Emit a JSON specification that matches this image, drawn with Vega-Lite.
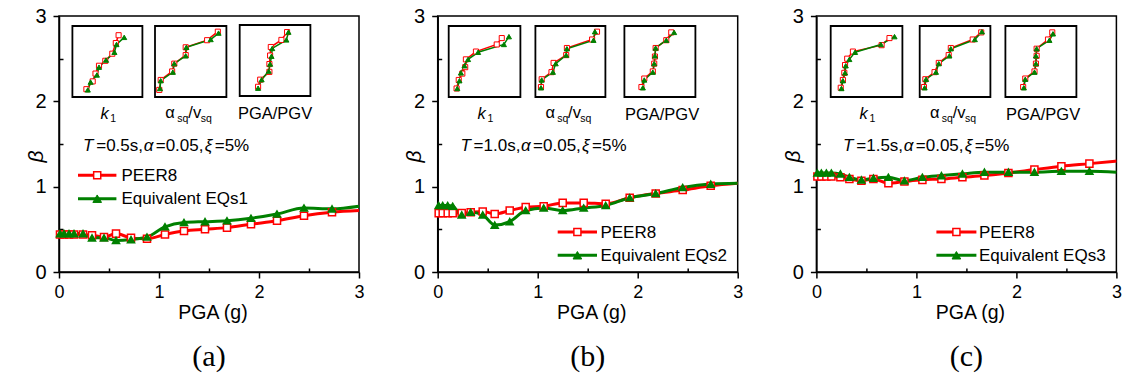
{
"$schema":"https://vega.github.io/schema/vega-lite/v6.json",
"background":"white",
"padding":{"left":24,"top":5,"right":0,"bottom":0},
"bounds":"flush",
"spacing":78.7,
"config":{"font":"Liberation Sans","view":{"stroke":"black","strokeWidth":1.5},
 "axis":{"domainColor":"black","domainWidth":1.5,"tickColor":"black","tickWidth":1.5,"labelColor":"black","titleColor":"black","grid":false,"titleFontWeight":"normal","labelFlush":false,"labelOverlap":false,"labelFont":"Liberation Sans","titleFont":"Liberation Sans"},
 "text":{"color":"black","font":"Liberation Sans"}},
"datasets":{
"main":[
{"p":"a","s":"PEER8","x":0.01,"y":0.44},{"p":"a","s":"PEER8","x":0.05,"y":0.44},{"p":"a","s":"PEER8","x":0.1,"y":0.44},{"p":"a","s":"PEER8","x":0.15,"y":0.44},{"p":"a","s":"PEER8","x":0.24,"y":0.44},{"p":"a","s":"PEER8","x":0.33,"y":0.43},{"p":"a","s":"PEER8","x":0.45,"y":0.41},{"p":"a","s":"PEER8","x":0.57,"y":0.45},{"p":"a","s":"PEER8","x":0.72,"y":0.40},{"p":"a","s":"PEER8","x":0.88,"y":0.39},{"p":"a","s":"PEER8","x":1.06,"y":0.44},{"p":"a","s":"PEER8","x":1.25,"y":0.48},{"p":"a","s":"PEER8","x":1.46,"y":0.50},{"p":"a","s":"PEER8","x":1.68,"y":0.52},{"p":"a","s":"PEER8","x":1.92,"y":0.56},{"p":"a","s":"PEER8","x":2.18,"y":0.60},{"p":"a","s":"PEER8","x":2.45,"y":0.66},{"p":"a","s":"PEER8","x":2.73,"y":0.70},{"p":"a","s":"PEER8","x":3.0,"y":0.72},
{"p":"a","s":"EQ","x":0.01,"y":0.45},{"p":"a","s":"EQ","x":0.05,"y":0.45},{"p":"a","s":"EQ","x":0.1,"y":0.45},{"p":"a","s":"EQ","x":0.15,"y":0.45},{"p":"a","s":"EQ","x":0.24,"y":0.45},{"p":"a","s":"EQ","x":0.33,"y":0.40},{"p":"a","s":"EQ","x":0.45,"y":0.40},{"p":"a","s":"EQ","x":0.57,"y":0.37},{"p":"a","s":"EQ","x":0.72,"y":0.38},{"p":"a","s":"EQ","x":0.88,"y":0.41},{"p":"a","s":"EQ","x":1.06,"y":0.53},{"p":"a","s":"EQ","x":1.25,"y":0.58},{"p":"a","s":"EQ","x":1.46,"y":0.59},{"p":"a","s":"EQ","x":1.68,"y":0.60},{"p":"a","s":"EQ","x":1.92,"y":0.63},{"p":"a","s":"EQ","x":2.18,"y":0.68},{"p":"a","s":"EQ","x":2.45,"y":0.75},{"p":"a","s":"EQ","x":2.73,"y":0.74},{"p":"a","s":"EQ","x":3.0,"y":0.77},
{"p":"b","s":"PEER8","x":0.01,"y":0.69},{"p":"b","s":"PEER8","x":0.05,"y":0.69},{"p":"b","s":"PEER8","x":0.1,"y":0.69},{"p":"b","s":"PEER8","x":0.15,"y":0.69},{"p":"b","s":"PEER8","x":0.24,"y":0.69},{"p":"b","s":"PEER8","x":0.33,"y":0.70},{"p":"b","s":"PEER8","x":0.45,"y":0.71},{"p":"b","s":"PEER8","x":0.57,"y":0.68},{"p":"b","s":"PEER8","x":0.72,"y":0.72},{"p":"b","s":"PEER8","x":0.88,"y":0.76},{"p":"b","s":"PEER8","x":1.06,"y":0.77},{"p":"b","s":"PEER8","x":1.25,"y":0.81},{"p":"b","s":"PEER8","x":1.46,"y":0.81},{"p":"b","s":"PEER8","x":1.68,"y":0.80},{"p":"b","s":"PEER8","x":1.92,"y":0.87},{"p":"b","s":"PEER8","x":2.18,"y":0.92},{"p":"b","s":"PEER8","x":2.45,"y":0.96},{"p":"b","s":"PEER8","x":2.73,"y":1.01},{"p":"b","s":"PEER8","x":3.0,"y":1.04},
{"p":"b","s":"EQ","x":0.01,"y":0.78},{"p":"b","s":"EQ","x":0.05,"y":0.78},{"p":"b","s":"EQ","x":0.1,"y":0.78},{"p":"b","s":"EQ","x":0.15,"y":0.77},{"p":"b","s":"EQ","x":0.24,"y":0.67},{"p":"b","s":"EQ","x":0.33,"y":0.70},{"p":"b","s":"EQ","x":0.45,"y":0.67},{"p":"b","s":"EQ","x":0.57,"y":0.55},{"p":"b","s":"EQ","x":0.72,"y":0.59},{"p":"b","s":"EQ","x":0.88,"y":0.72},{"p":"b","s":"EQ","x":1.06,"y":0.75},{"p":"b","s":"EQ","x":1.25,"y":0.72},{"p":"b","s":"EQ","x":1.46,"y":0.75},{"p":"b","s":"EQ","x":1.68,"y":0.78},{"p":"b","s":"EQ","x":1.92,"y":0.87},{"p":"b","s":"EQ","x":2.18,"y":0.92},{"p":"b","s":"EQ","x":2.45,"y":0.99},{"p":"b","s":"EQ","x":2.73,"y":1.03},{"p":"b","s":"EQ","x":3.0,"y":1.04},
{"p":"c","s":"PEER8","x":0.01,"y":1.12},{"p":"c","s":"PEER8","x":0.05,"y":1.12},{"p":"c","s":"PEER8","x":0.1,"y":1.12},{"p":"c","s":"PEER8","x":0.15,"y":1.12},{"p":"c","s":"PEER8","x":0.24,"y":1.11},{"p":"c","s":"PEER8","x":0.33,"y":1.09},{"p":"c","s":"PEER8","x":0.45,"y":1.07},{"p":"c","s":"PEER8","x":0.57,"y":1.09},{"p":"c","s":"PEER8","x":0.72,"y":1.04},{"p":"c","s":"PEER8","x":0.88,"y":1.06},{"p":"c","s":"PEER8","x":1.06,"y":1.08},{"p":"c","s":"PEER8","x":1.25,"y":1.09},{"p":"c","s":"PEER8","x":1.46,"y":1.11},{"p":"c","s":"PEER8","x":1.68,"y":1.13},{"p":"c","s":"PEER8","x":1.92,"y":1.16},{"p":"c","s":"PEER8","x":2.18,"y":1.20},{"p":"c","s":"PEER8","x":2.45,"y":1.24},{"p":"c","s":"PEER8","x":2.73,"y":1.27},{"p":"c","s":"PEER8","x":3.0,"y":1.30},
{"p":"c","s":"EQ","x":0.01,"y":1.16},{"p":"c","s":"EQ","x":0.05,"y":1.16},{"p":"c","s":"EQ","x":0.1,"y":1.16},{"p":"c","s":"EQ","x":0.15,"y":1.16},{"p":"c","s":"EQ","x":0.24,"y":1.15},{"p":"c","s":"EQ","x":0.33,"y":1.11},{"p":"c","s":"EQ","x":0.45,"y":1.08},{"p":"c","s":"EQ","x":0.57,"y":1.10},{"p":"c","s":"EQ","x":0.72,"y":1.11},{"p":"c","s":"EQ","x":0.88,"y":1.07},{"p":"c","s":"EQ","x":1.06,"y":1.11},{"p":"c","s":"EQ","x":1.25,"y":1.13},{"p":"c","s":"EQ","x":1.46,"y":1.15},{"p":"c","s":"EQ","x":1.68,"y":1.17},{"p":"c","s":"EQ","x":1.92,"y":1.17},{"p":"c","s":"EQ","x":2.18,"y":1.17},{"p":"c","s":"EQ","x":2.45,"y":1.18},{"p":"c","s":"EQ","x":2.73,"y":1.18},{"p":"c","s":"EQ","x":3.0,"y":1.17}
],
"ins":[
{"p":"a","i":1,"s":"PEER8","u":0.20,"v":0.11},{"p":"a","i":1,"s":"PEER8","u":0.29,"v":0.22},{"p":"a","i":1,"s":"PEER8","u":0.33,"v":0.33},{"p":"a","i":1,"s":"PEER8","u":0.38,"v":0.44},{"p":"a","i":1,"s":"PEER8","u":0.47,"v":0.51},{"p":"a","i":1,"s":"PEER8","u":0.57,"v":0.61},{"p":"a","i":1,"s":"PEER8","u":0.62,"v":0.76},{"p":"a","i":1,"s":"PEER8","u":0.66,"v":0.87},
{"p":"a","i":1,"s":"EQ","u":0.22,"v":0.10},{"p":"a","i":1,"s":"EQ","u":0.26,"v":0.21},{"p":"a","i":1,"s":"EQ","u":0.35,"v":0.31},{"p":"a","i":1,"s":"EQ","u":0.38,"v":0.42},{"p":"a","i":1,"s":"EQ","u":0.48,"v":0.52},{"p":"a","i":1,"s":"EQ","u":0.60,"v":0.63},{"p":"a","i":1,"s":"EQ","u":0.63,"v":0.74},{"p":"a","i":1,"s":"EQ","u":0.74,"v":0.84},
{"p":"a","i":2,"s":"PEER8","u":0.06,"v":0.10},{"p":"a","i":2,"s":"PEER8","u":0.08,"v":0.24},{"p":"a","i":2,"s":"PEER8","u":0.24,"v":0.36},{"p":"a","i":2,"s":"PEER8","u":0.27,"v":0.47},{"p":"a","i":2,"s":"PEER8","u":0.43,"v":0.59},{"p":"a","i":2,"s":"PEER8","u":0.43,"v":0.70},{"p":"a","i":2,"s":"PEER8","u":0.73,"v":0.80},{"p":"a","i":2,"s":"PEER8","u":0.88,"v":0.92},
{"p":"a","i":2,"s":"EQ","u":0.07,"v":0.12},{"p":"a","i":2,"s":"EQ","u":0.08,"v":0.23},{"p":"a","i":2,"s":"EQ","u":0.25,"v":0.35},{"p":"a","i":2,"s":"EQ","u":0.27,"v":0.47},{"p":"a","i":2,"s":"EQ","u":0.43,"v":0.58},{"p":"a","i":2,"s":"EQ","u":0.44,"v":0.70},{"p":"a","i":2,"s":"EQ","u":0.78,"v":0.81},{"p":"a","i":2,"s":"EQ","u":0.89,"v":0.90},
{"p":"a","i":3,"s":"PEER8","u":0.26,"v":0.13},{"p":"a","i":3,"s":"PEER8","u":0.29,"v":0.23},{"p":"a","i":3,"s":"PEER8","u":0.42,"v":0.34},{"p":"a","i":3,"s":"PEER8","u":0.42,"v":0.45},{"p":"a","i":3,"s":"PEER8","u":0.43,"v":0.57},{"p":"a","i":3,"s":"PEER8","u":0.44,"v":0.69},{"p":"a","i":3,"s":"PEER8","u":0.59,"v":0.79},{"p":"a","i":3,"s":"PEER8","u":0.67,"v":0.90},
{"p":"a","i":3,"s":"EQ","u":0.26,"v":0.11},{"p":"a","i":3,"s":"EQ","u":0.31,"v":0.23},{"p":"a","i":3,"s":"EQ","u":0.41,"v":0.35},{"p":"a","i":3,"s":"EQ","u":0.43,"v":0.45},{"p":"a","i":3,"s":"EQ","u":0.45,"v":0.56},{"p":"a","i":3,"s":"EQ","u":0.46,"v":0.67},{"p":"a","i":3,"s":"EQ","u":0.66,"v":0.79},{"p":"a","i":3,"s":"EQ","u":0.69,"v":0.90},
{"p":"b","i":1,"s":"PEER8","u":0.11,"v":0.12},{"p":"b","i":1,"s":"PEER8","u":0.14,"v":0.24},{"p":"b","i":1,"s":"PEER8","u":0.19,"v":0.33},{"p":"b","i":1,"s":"PEER8","u":0.23,"v":0.42},{"p":"b","i":1,"s":"PEER8","u":0.24,"v":0.53},{"p":"b","i":1,"s":"PEER8","u":0.38,"v":0.64},{"p":"b","i":1,"s":"PEER8","u":0.67,"v":0.74},{"p":"b","i":1,"s":"PEER8","u":0.74,"v":0.83},
{"p":"b","i":1,"s":"EQ","u":0.12,"v":0.12},{"p":"b","i":1,"s":"EQ","u":0.15,"v":0.23},{"p":"b","i":1,"s":"EQ","u":0.17,"v":0.34},{"p":"b","i":1,"s":"EQ","u":0.22,"v":0.44},{"p":"b","i":1,"s":"EQ","u":0.27,"v":0.53},{"p":"b","i":1,"s":"EQ","u":0.41,"v":0.63},{"p":"b","i":1,"s":"EQ","u":0.77,"v":0.74},{"p":"b","i":1,"s":"EQ","u":0.84,"v":0.85},
{"p":"b","i":2,"s":"PEER8","u":0.08,"v":0.14},{"p":"b","i":2,"s":"PEER8","u":0.09,"v":0.25},{"p":"b","i":2,"s":"PEER8","u":0.23,"v":0.35},{"p":"b","i":2,"s":"PEER8","u":0.26,"v":0.48},{"p":"b","i":2,"s":"PEER8","u":0.44,"v":0.59},{"p":"b","i":2,"s":"PEER8","u":0.45,"v":0.69},{"p":"b","i":2,"s":"PEER8","u":0.81,"v":0.81},{"p":"b","i":2,"s":"PEER8","u":0.88,"v":0.92},
{"p":"b","i":2,"s":"EQ","u":0.08,"v":0.13},{"p":"b","i":2,"s":"EQ","u":0.09,"v":0.24},{"p":"b","i":2,"s":"EQ","u":0.25,"v":0.35},{"p":"b","i":2,"s":"EQ","u":0.29,"v":0.47},{"p":"b","i":2,"s":"EQ","u":0.44,"v":0.59},{"p":"b","i":2,"s":"EQ","u":0.45,"v":0.68},{"p":"b","i":2,"s":"EQ","u":0.83,"v":0.80},{"p":"b","i":2,"s":"EQ","u":0.85,"v":0.92},
{"p":"b","i":3,"s":"PEER8","u":0.24,"v":0.14},{"p":"b","i":3,"s":"PEER8","u":0.28,"v":0.26},{"p":"b","i":3,"s":"PEER8","u":0.40,"v":0.36},{"p":"b","i":3,"s":"PEER8","u":0.42,"v":0.47},{"p":"b","i":3,"s":"PEER8","u":0.43,"v":0.57},{"p":"b","i":3,"s":"PEER8","u":0.44,"v":0.69},{"p":"b","i":3,"s":"PEER8","u":0.59,"v":0.80},{"p":"b","i":3,"s":"PEER8","u":0.66,"v":0.91},
{"p":"b","i":3,"s":"EQ","u":0.26,"v":0.13},{"p":"b","i":3,"s":"EQ","u":0.28,"v":0.24},{"p":"b","i":3,"s":"EQ","u":0.40,"v":0.35},{"p":"b","i":3,"s":"EQ","u":0.42,"v":0.47},{"p":"b","i":3,"s":"EQ","u":0.43,"v":0.58},{"p":"b","i":3,"s":"EQ","u":0.44,"v":0.69},{"p":"b","i":3,"s":"EQ","u":0.59,"v":0.80},{"p":"b","i":3,"s":"EQ","u":0.70,"v":0.91},
{"p":"c","i":1,"s":"PEER8","u":0.14,"v":0.13},{"p":"c","i":1,"s":"PEER8","u":0.17,"v":0.24},{"p":"c","i":1,"s":"PEER8","u":0.19,"v":0.34},{"p":"c","i":1,"s":"PEER8","u":0.20,"v":0.45},{"p":"c","i":1,"s":"PEER8","u":0.23,"v":0.54},{"p":"c","i":1,"s":"PEER8","u":0.31,"v":0.64},{"p":"c","i":1,"s":"PEER8","u":0.71,"v":0.73},{"p":"c","i":1,"s":"PEER8","u":0.82,"v":0.83},
{"p":"c","i":1,"s":"EQ","u":0.15,"v":0.12},{"p":"c","i":1,"s":"EQ","u":0.17,"v":0.23},{"p":"c","i":1,"s":"EQ","u":0.20,"v":0.34},{"p":"c","i":1,"s":"EQ","u":0.21,"v":0.44},{"p":"c","i":1,"s":"EQ","u":0.26,"v":0.53},{"p":"c","i":1,"s":"EQ","u":0.34,"v":0.63},{"p":"c","i":1,"s":"EQ","u":0.70,"v":0.74},{"p":"c","i":1,"s":"EQ","u":0.89,"v":0.85},
{"p":"c","i":2,"s":"PEER8","u":0.06,"v":0.14},{"p":"c","i":2,"s":"PEER8","u":0.08,"v":0.25},{"p":"c","i":2,"s":"PEER8","u":0.21,"v":0.35},{"p":"c","i":2,"s":"PEER8","u":0.27,"v":0.48},{"p":"c","i":2,"s":"PEER8","u":0.41,"v":0.59},{"p":"c","i":2,"s":"PEER8","u":0.44,"v":0.69},{"p":"c","i":2,"s":"PEER8","u":0.75,"v":0.81},{"p":"c","i":2,"s":"PEER8","u":0.87,"v":0.91},
{"p":"c","i":2,"s":"EQ","u":0.07,"v":0.13},{"p":"c","i":2,"s":"EQ","u":0.09,"v":0.25},{"p":"c","i":2,"s":"EQ","u":0.23,"v":0.35},{"p":"c","i":2,"s":"EQ","u":0.27,"v":0.47},{"p":"c","i":2,"s":"EQ","u":0.42,"v":0.58},{"p":"c","i":2,"s":"EQ","u":0.44,"v":0.68},{"p":"c","i":2,"s":"EQ","u":0.78,"v":0.81},{"p":"c","i":2,"s":"EQ","u":0.88,"v":0.92},
{"p":"c","i":3,"s":"PEER8","u":0.25,"v":0.14},{"p":"c","i":3,"s":"PEER8","u":0.28,"v":0.26},{"p":"c","i":3,"s":"PEER8","u":0.41,"v":0.36},{"p":"c","i":3,"s":"PEER8","u":0.43,"v":0.47},{"p":"c","i":3,"s":"PEER8","u":0.44,"v":0.58},{"p":"c","i":3,"s":"PEER8","u":0.44,"v":0.68},{"p":"c","i":3,"s":"PEER8","u":0.60,"v":0.81},{"p":"c","i":3,"s":"PEER8","u":0.66,"v":0.91},
{"p":"c","i":3,"s":"EQ","u":0.26,"v":0.13},{"p":"c","i":3,"s":"EQ","u":0.28,"v":0.25},{"p":"c","i":3,"s":"EQ","u":0.41,"v":0.35},{"p":"c","i":3,"s":"EQ","u":0.43,"v":0.47},{"p":"c","i":3,"s":"EQ","u":0.43,"v":0.58},{"p":"c","i":3,"s":"EQ","u":0.44,"v":0.68},{"p":"c","i":3,"s":"EQ","u":0.62,"v":0.80},{"p":"c","i":3,"s":"EQ","u":0.67,"v":0.89}
]},
"hconcat":[
{"width":300,"height":256,
 "title":{"text":"(a)","orient":"bottom","frame":"group","anchor":"middle","font":"Liberation Serif","fontSize":30,"fontWeight":"normal","offset":20,"color":"black"},
 "resolve":{"scale":{"x":"independent","y":"independent"}},
 "layer":[
  {"layer":[
    {"data":{"name":"main"},"transform":[{"filter":"datum.p=='a'"}],"mark":{"type":"line","interpolate":"monotone","strokeWidth":3},
     "encoding":{"x":{"field":"x","type":"quantitative","scale":{"domain":[0,3],"nice":false},"axis":{"title":"PGA (g)","values":[0,0.5,1,1.5,2,2.5,3],"labelExpr":"datum.value % 1 === 0 ? format(datum.value,'d') : ''","tickSize":{"expr":"datum.value % 1 === 0 ? 6 : -4"},"labelFontSize":18,"labelPadding":5,"titleFontSize":19.5,"titleFontWeight":"normal","titleX":153.5,"titleY":46,"titleBaseline":"alphabetic","labelFlush":false,"labelOverlap":false}},
       "y":{"field":"y","type":"quantitative","scale":{"domain":[0,3],"nice":false},"axis":{"title":"β","values":[0,0.5,1,1.5,2,2.5,3],"labelExpr":"datum.value % 1 === 0 ? format(datum.value,'d') : ''","tickSize":{"expr":"datum.value % 1 === 0 ? 6 : -4"},"labelFontSize":20,"labelPadding":7,"titleFontSize":21,"titleFontStyle":"italic","titleFontWeight":"normal","titleX":-23,"titleY":140,"titleBaseline":"middle","labelOverlap":false}},
       "color":{"field":"s","type":"nominal","scale":{"domain":["PEER8","EQ"],"range":["#ff0000","#008000"]},"legend":null}}},
    {"data":{"name":"main"},"transform":[{"filter":"datum.p=='a' && datum.x < 2.9"}],"mark":{"type":"point","opacity":1,"strokeWidth":1.5,"size":50},"encoding":{"x":{"field":"x","type":"quantitative"},"y":{"field":"y","type":"quantitative"},"shape":{"field":"s","type":"nominal","scale":{"domain":["PEER8","EQ"],"range":["square","triangle-up"]},"legend":null},"fill":{"field":"s","type":"nominal","scale":{"domain":["PEER8","EQ"],"range":["#ffffff","#008000"]},"legend":null},"stroke":{"field":"s","type":"nominal","scale":{"domain":["PEER8","EQ"],"range":["#ff0000","#008000"]},"legend":null}}},
    {"data":{"values":[{}]},"mark":{"type":"rule","color":"#ff0000","strokeWidth":3},"encoding":{"x":{"datum":0.19},"x2":{"datum":0.574},"y":{"datum":1.133}}},
    {"data":{"values":[{}]},"mark":{"type":"point","shape":"square","fill":"#ffffff","stroke":"#ff0000","opacity":1,"strokeWidth":1.5,"size":50},"encoding":{"x":{"datum":0.382},"y":{"datum":1.133}}},
    {"data":{"values":[{}]},"mark":{"type":"text","text":"PEER8","fontSize":17,"align":"left","baseline":"alphabetic"},"encoding":{"x":{"datum":0.624},"y":{"datum":1.066}}},
    {"data":{"values":[{}]},"mark":{"type":"rule","color":"#008000","strokeWidth":3},"encoding":{"x":{"datum":0.19},"x2":{"datum":0.574},"y":{"datum":0.859}}},
    {"data":{"values":[{}]},"mark":{"type":"point","shape":"triangle-up","fill":"#008000","stroke":"#008000","opacity":1,"strokeWidth":1,"size":75},"encoding":{"x":{"datum":0.382},"y":{"datum":0.859}}},
    {"data":{"values":[{}]},"mark":{"type":"text","text":"Equivalent EQs1","fontSize":17,"align":"left","baseline":"alphabetic"},"encoding":{"x":{"datum":0.624},"y":{"datum":0.793}}},
    {"data":{"values":[{}]},"mark":{"type":"text","text":"T","fontStyle":"italic","fontSize":17,"align":"left","baseline":"alphabetic"},"encoding":{"x":{"datum":0.24},"y":{"datum":1.42}}},
    {"data":{"values":[{}]},"mark":{"type":"text","text":"=0.5s,","fontSize":17,"align":"left","baseline":"alphabetic"},"encoding":{"x":{"datum":0.372},"y":{"datum":1.42}}},
    {"data":{"values":[{}]},"mark":{"type":"text","text":"α","fontStyle":"italic","fontSize":17,"align":"left","baseline":"alphabetic"},"encoding":{"x":{"datum":0.847},"y":{"datum":1.42}}},
    {"data":{"values":[{}]},"mark":{"type":"text","text":"=0.05,","fontSize":17,"align":"left","baseline":"alphabetic"},"encoding":{"x":{"datum":0.967},"y":{"datum":1.42}}},
    {"data":{"values":[{}]},"mark":{"type":"text","text":"ξ","fontStyle":"italic","fontSize":17,"align":"left","baseline":"alphabetic"},"encoding":{"x":{"datum":1.457},"y":{"datum":1.42}}},
    {"data":{"values":[{}]},"mark":{"type":"text","text":"=5%","fontSize":17,"align":"left","baseline":"alphabetic"},"encoding":{"x":{"datum":1.557},"y":{"datum":1.42}}}
  ]},
  {"layer":[
    {"data":{"values":[{}]},"mark":{"type":"rect","fill":"transparent","stroke":"black","strokeWidth":1.8},"encoding":{"x":{"datum":0,"axis":null},"x2":{"datum":1},"y":{"datum":0,"axis":null},"y2":{"datum":1}}},
    {"data":{"name":"ins"},"transform":[{"filter":"datum.p=='a' && datum.i==1"}],"mark":{"type":"line","strokeWidth":1.5},"encoding":{"x":{"field":"u","type":"quantitative","scale":{"domain":[0,1],"range":[13.4,83.4]},"axis":null},"y":{"field":"v","type":"quantitative","scale":{"domain":[0,1],"range":[81,10]},"axis":null},"color":{"field":"s","type":"nominal","scale":{"domain":["PEER8","EQ"],"range":["#ff0000","#008000"]},"legend":null},"order":{"field":"v","type":"quantitative"}}},
    {"data":{"name":"ins"},"transform":[{"filter":"datum.p=='a' && datum.i==1"}],"mark":{"type":"point","opacity":1,"strokeWidth":1,"size":26},"encoding":{"x":{"field":"u","type":"quantitative","axis":null},"y":{"field":"v","type":"quantitative","axis":null},"shape":{"field":"s","type":"nominal","scale":{"domain":["PEER8","EQ"],"range":["square","triangle-up"]},"legend":null},"fill":{"field":"s","type":"nominal","scale":{"domain":["PEER8","EQ"],"range":["#ffffff","#008000"]},"legend":null},"stroke":{"field":"s","type":"nominal","scale":{"domain":["PEER8","EQ"],"range":["#ff0000","#008000"]},"legend":null}}},
    {"data":{"values":[{}]},"mark":{"type":"text","text":"k","fontStyle":"italic","fontSize":16.5,"align":"left","baseline":"alphabetic"},"encoding":{"x":{"datum":0.40,"axis":null},"y":{"datum":-0.31,"axis":null}}},
    {"data":{"values":[{}]},"mark":{"type":"text","text":"1","fontSize":10.5,"align":"left","baseline":"alphabetic"},"encoding":{"x":{"datum":0.54,"axis":null},"y":{"datum":-0.35,"axis":null}}}
  ]},
  {"layer":[
    {"data":{"values":[{}]},"mark":{"type":"rect","fill":"transparent","stroke":"black","strokeWidth":1.8},"encoding":{"x":{"datum":0,"axis":null},"x2":{"datum":1},"y":{"datum":0,"axis":null},"y2":{"datum":1}}},
    {"data":{"name":"ins"},"transform":[{"filter":"datum.p=='a' && datum.i==2"}],"mark":{"type":"line","strokeWidth":1.5},"encoding":{"x":{"field":"u","type":"quantitative","scale":{"domain":[0,1],"range":[96,167.4]},"axis":null},"y":{"field":"v","type":"quantitative","scale":{"domain":[0,1],"range":[81,10]},"axis":null},"color":{"field":"s","type":"nominal","scale":{"domain":["PEER8","EQ"],"range":["#ff0000","#008000"]},"legend":null},"order":{"field":"v","type":"quantitative"}}},
    {"data":{"name":"ins"},"transform":[{"filter":"datum.p=='a' && datum.i==2"}],"mark":{"type":"point","opacity":1,"strokeWidth":1,"size":26},"encoding":{"x":{"field":"u","type":"quantitative","axis":null},"y":{"field":"v","type":"quantitative","axis":null},"shape":{"field":"s","type":"nominal","scale":{"domain":["PEER8","EQ"],"range":["square","triangle-up"]},"legend":null},"fill":{"field":"s","type":"nominal","scale":{"domain":["PEER8","EQ"],"range":["#ffffff","#008000"]},"legend":null},"stroke":{"field":"s","type":"nominal","scale":{"domain":["PEER8","EQ"],"range":["#ff0000","#008000"]},"legend":null}}},
    {"data":{"values":[{}]},"mark":{"type":"text","text":"α","fontSize":16.5,"align":"left","baseline":"alphabetic"},"encoding":{"x":{"datum":0.145,"axis":null},"y":{"datum":-0.30,"axis":null}}},
    {"data":{"values":[{}]},"mark":{"type":"text","text":"sq","fontSize":10.5,"align":"left","baseline":"alphabetic"},"encoding":{"x":{"datum":0.313,"axis":null},"y":{"datum":-0.35,"axis":null}}},
    {"data":{"values":[{}]},"mark":{"type":"text","text":"/v","fontSize":16.5,"align":"left","baseline":"alphabetic"},"encoding":{"x":{"datum":0.467,"axis":null},"y":{"datum":-0.30,"axis":null}}},
    {"data":{"values":[{}]},"mark":{"type":"text","text":"sq","fontSize":10.5,"align":"left","baseline":"alphabetic"},"encoding":{"x":{"datum":0.64,"axis":null},"y":{"datum":-0.35,"axis":null}}}
  ]},
  {"layer":[
    {"data":{"values":[{}]},"mark":{"type":"rect","fill":"transparent","stroke":"black","strokeWidth":1.8},"encoding":{"x":{"datum":0,"axis":null},"x2":{"datum":1},"y":{"datum":0,"axis":null},"y2":{"datum":1}}},
    {"data":{"name":"ins"},"transform":[{"filter":"datum.p=='a' && datum.i==3"}],"mark":{"type":"line","strokeWidth":1.5},"encoding":{"x":{"field":"u","type":"quantitative","scale":{"domain":[0,1],"range":[180.7,251.4]},"axis":null},"y":{"field":"v","type":"quantitative","scale":{"domain":[0,1],"range":[80,9]},"axis":null},"color":{"field":"s","type":"nominal","scale":{"domain":["PEER8","EQ"],"range":["#ff0000","#008000"]},"legend":null},"order":{"field":"v","type":"quantitative"}}},
    {"data":{"name":"ins"},"transform":[{"filter":"datum.p=='a' && datum.i==3"}],"mark":{"type":"point","opacity":1,"strokeWidth":1,"size":26},"encoding":{"x":{"field":"u","type":"quantitative","axis":null},"y":{"field":"v","type":"quantitative","axis":null},"shape":{"field":"s","type":"nominal","scale":{"domain":["PEER8","EQ"],"range":["square","triangle-up"]},"legend":null},"fill":{"field":"s","type":"nominal","scale":{"domain":["PEER8","EQ"],"range":["#ffffff","#008000"]},"legend":null},"stroke":{"field":"s","type":"nominal","scale":{"domain":["PEER8","EQ"],"range":["#ff0000","#008000"]},"legend":null}}},
    {"data":{"values":[{}]},"mark":{"type":"text","text":"PGA/PGV","fontSize":16.5,"align":"center","baseline":"alphabetic"},"encoding":{"x":{"datum":0.5,"axis":null},"y":{"datum":-0.33,"axis":null}}}
  ]}
 ]},
{"width":300,"height":256,
 "title":{"text":"(b)","orient":"bottom","frame":"group","anchor":"middle","font":"Liberation Serif","fontSize":30,"fontWeight":"normal","offset":20,"color":"black"},
 "resolve":{"scale":{"x":"independent","y":"independent"}},
 "layer":[
  {"layer":[
    {"data":{"name":"main"},"transform":[{"filter":"datum.p=='b'"}],"mark":{"type":"line","interpolate":"monotone","strokeWidth":3},
     "encoding":{"x":{"field":"x","type":"quantitative","scale":{"domain":[0,3],"nice":false},"axis":{"title":"PGA (g)","values":[0,0.5,1,1.5,2,2.5,3],"labelExpr":"datum.value % 1 === 0 ? format(datum.value,'d') : ''","tickSize":{"expr":"datum.value % 1 === 0 ? 6 : -4"},"labelFontSize":18,"labelPadding":5,"titleFontSize":19.5,"titleFontWeight":"normal","titleX":153.5,"titleY":46,"titleBaseline":"alphabetic","labelFlush":false,"labelOverlap":false}},
       "y":{"field":"y","type":"quantitative","scale":{"domain":[0,3],"nice":false},"axis":{"title":"β","values":[0,0.5,1,1.5,2,2.5,3],"labelExpr":"datum.value % 1 === 0 ? format(datum.value,'d') : ''","tickSize":{"expr":"datum.value % 1 === 0 ? 6 : -4"},"labelFontSize":20,"labelPadding":7,"titleFontSize":21,"titleFontStyle":"italic","titleFontWeight":"normal","titleX":-23,"titleY":140,"titleBaseline":"middle","labelOverlap":false}},
       "color":{"field":"s","type":"nominal","scale":{"domain":["PEER8","EQ"],"range":["#ff0000","#008000"]},"legend":null}}},
    {"data":{"name":"main"},"transform":[{"filter":"datum.p=='b' && datum.x < 2.9"}],"mark":{"type":"point","opacity":1,"strokeWidth":1.5,"size":50},"encoding":{"x":{"field":"x","type":"quantitative"},"y":{"field":"y","type":"quantitative"},"shape":{"field":"s","type":"nominal","scale":{"domain":["PEER8","EQ"],"range":["square","triangle-up"]},"legend":null},"fill":{"field":"s","type":"nominal","scale":{"domain":["PEER8","EQ"],"range":["#ffffff","#008000"]},"legend":null},"stroke":{"field":"s","type":"nominal","scale":{"domain":["PEER8","EQ"],"range":["#ff0000","#008000"]},"legend":null}}},
    {"data":{"values":[{}]},"mark":{"type":"rule","color":"#ff0000","strokeWidth":3},"encoding":{"x":{"datum":1.2},"x2":{"datum":1.593},"y":{"datum":0.469}}},
    {"data":{"values":[{}]},"mark":{"type":"point","shape":"square","fill":"#ffffff","stroke":"#ff0000","opacity":1,"strokeWidth":1.5,"size":50},"encoding":{"x":{"datum":1.397},"y":{"datum":0.469}}},
    {"data":{"values":[{}]},"mark":{"type":"text","text":"PEER8","fontSize":17,"align":"left","baseline":"alphabetic"},"encoding":{"x":{"datum":1.627},"y":{"datum":0.402}}},
    {"data":{"values":[{}]},"mark":{"type":"rule","color":"#008000","strokeWidth":3},"encoding":{"x":{"datum":1.2},"x2":{"datum":1.593},"y":{"datum":0.196}}},
    {"data":{"values":[{}]},"mark":{"type":"point","shape":"triangle-up","fill":"#008000","stroke":"#008000","opacity":1,"strokeWidth":1,"size":75},"encoding":{"x":{"datum":1.397},"y":{"datum":0.196}}},
    {"data":{"values":[{}]},"mark":{"type":"text","text":"Equivalent EQs2","fontSize":17,"align":"left","baseline":"alphabetic"},"encoding":{"x":{"datum":1.627},"y":{"datum":0.129}}},
    {"data":{"values":[{}]},"mark":{"type":"text","text":"T","fontStyle":"italic","fontSize":17,"align":"left","baseline":"alphabetic"},"encoding":{"x":{"datum":0.227},"y":{"datum":1.42}}},
    {"data":{"values":[{}]},"mark":{"type":"text","text":"=1.0s,","fontSize":17,"align":"left","baseline":"alphabetic"},"encoding":{"x":{"datum":0.359},"y":{"datum":1.42}}},
    {"data":{"values":[{}]},"mark":{"type":"text","text":"α","fontStyle":"italic","fontSize":17,"align":"left","baseline":"alphabetic"},"encoding":{"x":{"datum":0.834},"y":{"datum":1.42}}},
    {"data":{"values":[{}]},"mark":{"type":"text","text":"=0.05,","fontSize":17,"align":"left","baseline":"alphabetic"},"encoding":{"x":{"datum":0.954},"y":{"datum":1.42}}},
    {"data":{"values":[{}]},"mark":{"type":"text","text":"ξ","fontStyle":"italic","fontSize":17,"align":"left","baseline":"alphabetic"},"encoding":{"x":{"datum":1.444},"y":{"datum":1.42}}},
    {"data":{"values":[{}]},"mark":{"type":"text","text":"=5%","fontSize":17,"align":"left","baseline":"alphabetic"},"encoding":{"x":{"datum":1.544},"y":{"datum":1.42}}}
  ]},
  {"layer":[
    {"data":{"values":[{}]},"mark":{"type":"rect","fill":"transparent","stroke":"black","strokeWidth":1.8},"encoding":{"x":{"datum":0,"axis":null},"x2":{"datum":1},"y":{"datum":0,"axis":null},"y2":{"datum":1}}},
    {"data":{"name":"ins"},"transform":[{"filter":"datum.p=='b' && datum.i==1"}],"mark":{"type":"line","strokeWidth":1.5},"encoding":{"x":{"field":"u","type":"quantitative","scale":{"domain":[0,1],"range":[11,82.7]},"axis":null},"y":{"field":"v","type":"quantitative","scale":{"domain":[0,1],"range":[81,10]},"axis":null},"color":{"field":"s","type":"nominal","scale":{"domain":["PEER8","EQ"],"range":["#ff0000","#008000"]},"legend":null},"order":{"field":"v","type":"quantitative"}}},
    {"data":{"name":"ins"},"transform":[{"filter":"datum.p=='b' && datum.i==1"}],"mark":{"type":"point","opacity":1,"strokeWidth":1,"size":26},"encoding":{"x":{"field":"u","type":"quantitative","axis":null},"y":{"field":"v","type":"quantitative","axis":null},"shape":{"field":"s","type":"nominal","scale":{"domain":["PEER8","EQ"],"range":["square","triangle-up"]},"legend":null},"fill":{"field":"s","type":"nominal","scale":{"domain":["PEER8","EQ"],"range":["#ffffff","#008000"]},"legend":null},"stroke":{"field":"s","type":"nominal","scale":{"domain":["PEER8","EQ"],"range":["#ff0000","#008000"]},"legend":null}}},
    {"data":{"values":[{}]},"mark":{"type":"text","text":"k","fontStyle":"italic","fontSize":16.5,"align":"left","baseline":"alphabetic"},"encoding":{"x":{"datum":0.40,"axis":null},"y":{"datum":-0.31,"axis":null}}},
    {"data":{"values":[{}]},"mark":{"type":"text","text":"1","fontSize":10.5,"align":"left","baseline":"alphabetic"},"encoding":{"x":{"datum":0.54,"axis":null},"y":{"datum":-0.35,"axis":null}}}
  ]},
  {"layer":[
    {"data":{"values":[{}]},"mark":{"type":"rect","fill":"transparent","stroke":"black","strokeWidth":1.8},"encoding":{"x":{"datum":0,"axis":null},"x2":{"datum":1},"y":{"datum":0,"axis":null},"y2":{"datum":1}}},
    {"data":{"name":"ins"},"transform":[{"filter":"datum.p=='b' && datum.i==2"}],"mark":{"type":"line","strokeWidth":1.5},"encoding":{"x":{"field":"u","type":"quantitative","scale":{"domain":[0,1],"range":[97.7,167.7]},"axis":null},"y":{"field":"v","type":"quantitative","scale":{"domain":[0,1],"range":[81,10]},"axis":null},"color":{"field":"s","type":"nominal","scale":{"domain":["PEER8","EQ"],"range":["#ff0000","#008000"]},"legend":null},"order":{"field":"v","type":"quantitative"}}},
    {"data":{"name":"ins"},"transform":[{"filter":"datum.p=='b' && datum.i==2"}],"mark":{"type":"point","opacity":1,"strokeWidth":1,"size":26},"encoding":{"x":{"field":"u","type":"quantitative","axis":null},"y":{"field":"v","type":"quantitative","axis":null},"shape":{"field":"s","type":"nominal","scale":{"domain":["PEER8","EQ"],"range":["square","triangle-up"]},"legend":null},"fill":{"field":"s","type":"nominal","scale":{"domain":["PEER8","EQ"],"range":["#ffffff","#008000"]},"legend":null},"stroke":{"field":"s","type":"nominal","scale":{"domain":["PEER8","EQ"],"range":["#ff0000","#008000"]},"legend":null}}},
    {"data":{"values":[{}]},"mark":{"type":"text","text":"α","fontSize":16.5,"align":"left","baseline":"alphabetic"},"encoding":{"x":{"datum":0.145,"axis":null},"y":{"datum":-0.30,"axis":null}}},
    {"data":{"values":[{}]},"mark":{"type":"text","text":"sq","fontSize":10.5,"align":"left","baseline":"alphabetic"},"encoding":{"x":{"datum":0.313,"axis":null},"y":{"datum":-0.35,"axis":null}}},
    {"data":{"values":[{}]},"mark":{"type":"text","text":"/v","fontSize":16.5,"align":"left","baseline":"alphabetic"},"encoding":{"x":{"datum":0.467,"axis":null},"y":{"datum":-0.30,"axis":null}}},
    {"data":{"values":[{}]},"mark":{"type":"text","text":"sq","fontSize":10.5,"align":"left","baseline":"alphabetic"},"encoding":{"x":{"datum":0.64,"axis":null},"y":{"datum":-0.35,"axis":null}}}
  ]},
  {"layer":[
    {"data":{"values":[{}]},"mark":{"type":"rect","fill":"transparent","stroke":"black","strokeWidth":1.8},"encoding":{"x":{"datum":0,"axis":null},"x2":{"datum":1},"y":{"datum":0,"axis":null},"y2":{"datum":1}}},
    {"data":{"name":"ins"},"transform":[{"filter":"datum.p=='b' && datum.i==3"}],"mark":{"type":"line","strokeWidth":1.5},"encoding":{"x":{"field":"u","type":"quantitative","scale":{"domain":[0,1],"range":[186.7,257.7]},"axis":null},"y":{"field":"v","type":"quantitative","scale":{"domain":[0,1],"range":[81,10]},"axis":null},"color":{"field":"s","type":"nominal","scale":{"domain":["PEER8","EQ"],"range":["#ff0000","#008000"]},"legend":null},"order":{"field":"v","type":"quantitative"}}},
    {"data":{"name":"ins"},"transform":[{"filter":"datum.p=='b' && datum.i==3"}],"mark":{"type":"point","opacity":1,"strokeWidth":1,"size":26},"encoding":{"x":{"field":"u","type":"quantitative","axis":null},"y":{"field":"v","type":"quantitative","axis":null},"shape":{"field":"s","type":"nominal","scale":{"domain":["PEER8","EQ"],"range":["square","triangle-up"]},"legend":null},"fill":{"field":"s","type":"nominal","scale":{"domain":["PEER8","EQ"],"range":["#ffffff","#008000"]},"legend":null},"stroke":{"field":"s","type":"nominal","scale":{"domain":["PEER8","EQ"],"range":["#ff0000","#008000"]},"legend":null}}},
    {"data":{"values":[{}]},"mark":{"type":"text","text":"PGA/PGV","fontSize":16.5,"align":"center","baseline":"alphabetic"},"encoding":{"x":{"datum":0.53,"axis":null},"y":{"datum":-0.33,"axis":null}}}
  ]}
 ]},
{"width":300,"height":256,
 "title":{"text":"(c)","orient":"bottom","frame":"group","anchor":"middle","font":"Liberation Serif","fontSize":30,"fontWeight":"normal","offset":20,"color":"black"},
 "resolve":{"scale":{"x":"independent","y":"independent"}},
 "layer":[
  {"layer":[
    {"data":{"name":"main"},"transform":[{"filter":"datum.p=='c'"}],"mark":{"type":"line","interpolate":"monotone","strokeWidth":3},
     "encoding":{"x":{"field":"x","type":"quantitative","scale":{"domain":[0,3],"nice":false},"axis":{"title":"PGA (g)","values":[0,0.5,1,1.5,2,2.5,3],"labelExpr":"datum.value % 1 === 0 ? format(datum.value,'d') : ''","tickSize":{"expr":"datum.value % 1 === 0 ? 6 : -4"},"labelFontSize":18,"labelPadding":5,"titleFontSize":19.5,"titleFontWeight":"normal","titleX":153.5,"titleY":46,"titleBaseline":"alphabetic","labelFlush":false,"labelOverlap":false}},
       "y":{"field":"y","type":"quantitative","scale":{"domain":[0,3],"nice":false},"axis":{"title":"β","values":[0,0.5,1,1.5,2,2.5,3],"labelExpr":"datum.value % 1 === 0 ? format(datum.value,'d') : ''","tickSize":{"expr":"datum.value % 1 === 0 ? 6 : -4"},"labelFontSize":20,"labelPadding":7,"titleFontSize":21,"titleFontStyle":"italic","titleFontWeight":"normal","titleX":-23,"titleY":140,"titleBaseline":"middle","labelOverlap":false}},
       "color":{"field":"s","type":"nominal","scale":{"domain":["PEER8","EQ"],"range":["#ff0000","#008000"]},"legend":null}}},
    {"data":{"name":"main"},"transform":[{"filter":"datum.p=='c' && datum.x < 2.9"}],"mark":{"type":"point","opacity":1,"strokeWidth":1.5,"size":50},"encoding":{"x":{"field":"x","type":"quantitative"},"y":{"field":"y","type":"quantitative"},"shape":{"field":"s","type":"nominal","scale":{"domain":["PEER8","EQ"],"range":["square","triangle-up"]},"legend":null},"fill":{"field":"s","type":"nominal","scale":{"domain":["PEER8","EQ"],"range":["#ffffff","#008000"]},"legend":null},"stroke":{"field":"s","type":"nominal","scale":{"domain":["PEER8","EQ"],"range":["#ff0000","#008000"]},"legend":null}}},
    {"data":{"values":[{}]},"mark":{"type":"rule","color":"#ff0000","strokeWidth":3},"encoding":{"x":{"datum":1.2},"x2":{"datum":1.6},"y":{"datum":0.469}}},
    {"data":{"values":[{}]},"mark":{"type":"point","shape":"square","fill":"#ffffff","stroke":"#ff0000","opacity":1,"strokeWidth":1.5,"size":50},"encoding":{"x":{"datum":1.4},"y":{"datum":0.469}}},
    {"data":{"values":[{}]},"mark":{"type":"text","text":"PEER8","fontSize":17,"align":"left","baseline":"alphabetic"},"encoding":{"x":{"datum":1.626},"y":{"datum":0.402}}},
    {"data":{"values":[{}]},"mark":{"type":"rule","color":"#008000","strokeWidth":3},"encoding":{"x":{"datum":1.2},"x2":{"datum":1.6},"y":{"datum":0.196}}},
    {"data":{"values":[{}]},"mark":{"type":"point","shape":"triangle-up","fill":"#008000","stroke":"#008000","opacity":1,"strokeWidth":1,"size":75},"encoding":{"x":{"datum":1.4},"y":{"datum":0.196}}},
    {"data":{"values":[{}]},"mark":{"type":"text","text":"Equivalent EQs3","fontSize":17,"align":"left","baseline":"alphabetic"},"encoding":{"x":{"datum":1.626},"y":{"datum":0.129}}},
    {"data":{"values":[{}]},"mark":{"type":"text","text":"T","fontStyle":"italic","fontSize":17,"align":"left","baseline":"alphabetic"},"encoding":{"x":{"datum":0.267},"y":{"datum":1.42}}},
    {"data":{"values":[{}]},"mark":{"type":"text","text":"=1.5s,","fontSize":17,"align":"left","baseline":"alphabetic"},"encoding":{"x":{"datum":0.399},"y":{"datum":1.42}}},
    {"data":{"values":[{}]},"mark":{"type":"text","text":"α","fontStyle":"italic","fontSize":17,"align":"left","baseline":"alphabetic"},"encoding":{"x":{"datum":0.874},"y":{"datum":1.42}}},
    {"data":{"values":[{}]},"mark":{"type":"text","text":"=0.05,","fontSize":17,"align":"left","baseline":"alphabetic"},"encoding":{"x":{"datum":0.994},"y":{"datum":1.42}}},
    {"data":{"values":[{}]},"mark":{"type":"text","text":"ξ","fontStyle":"italic","fontSize":17,"align":"left","baseline":"alphabetic"},"encoding":{"x":{"datum":1.484},"y":{"datum":1.42}}},
    {"data":{"values":[{}]},"mark":{"type":"text","text":"=5%","fontSize":17,"align":"left","baseline":"alphabetic"},"encoding":{"x":{"datum":1.584},"y":{"datum":1.42}}}
  ]},
  {"layer":[
    {"data":{"values":[{}]},"mark":{"type":"rect","fill":"transparent","stroke":"black","strokeWidth":1.8},"encoding":{"x":{"datum":0,"axis":null},"x2":{"datum":1},"y":{"datum":0,"axis":null},"y2":{"datum":1}}},
    {"data":{"name":"ins"},"transform":[{"filter":"datum.p=='c' && datum.i==1"}],"mark":{"type":"line","strokeWidth":1.5},"encoding":{"x":{"field":"u","type":"quantitative","scale":{"domain":[0,1],"range":[14.3,86]},"axis":null},"y":{"field":"v","type":"quantitative","scale":{"domain":[0,1],"range":[81,10]},"axis":null},"color":{"field":"s","type":"nominal","scale":{"domain":["PEER8","EQ"],"range":["#ff0000","#008000"]},"legend":null},"order":{"field":"v","type":"quantitative"}}},
    {"data":{"name":"ins"},"transform":[{"filter":"datum.p=='c' && datum.i==1"}],"mark":{"type":"point","opacity":1,"strokeWidth":1,"size":26},"encoding":{"x":{"field":"u","type":"quantitative","axis":null},"y":{"field":"v","type":"quantitative","axis":null},"shape":{"field":"s","type":"nominal","scale":{"domain":["PEER8","EQ"],"range":["square","triangle-up"]},"legend":null},"fill":{"field":"s","type":"nominal","scale":{"domain":["PEER8","EQ"],"range":["#ffffff","#008000"]},"legend":null},"stroke":{"field":"s","type":"nominal","scale":{"domain":["PEER8","EQ"],"range":["#ff0000","#008000"]},"legend":null}}},
    {"data":{"values":[{}]},"mark":{"type":"text","text":"k","fontStyle":"italic","fontSize":16.5,"align":"left","baseline":"alphabetic"},"encoding":{"x":{"datum":0.40,"axis":null},"y":{"datum":-0.31,"axis":null}}},
    {"data":{"values":[{}]},"mark":{"type":"text","text":"1","fontSize":10.5,"align":"left","baseline":"alphabetic"},"encoding":{"x":{"datum":0.54,"axis":null},"y":{"datum":-0.35,"axis":null}}}
  ]},
  {"layer":[
    {"data":{"values":[{}]},"mark":{"type":"rect","fill":"transparent","stroke":"black","strokeWidth":1.8},"encoding":{"x":{"datum":0,"axis":null},"x2":{"datum":1},"y":{"datum":0,"axis":null},"y2":{"datum":1}}},
    {"data":{"name":"ins"},"transform":[{"filter":"datum.p=='c' && datum.i==2"}],"mark":{"type":"line","strokeWidth":1.5},"encoding":{"x":{"field":"u","type":"quantitative","scale":{"domain":[0,1],"range":[103.3,174]},"axis":null},"y":{"field":"v","type":"quantitative","scale":{"domain":[0,1],"range":[81,10]},"axis":null},"color":{"field":"s","type":"nominal","scale":{"domain":["PEER8","EQ"],"range":["#ff0000","#008000"]},"legend":null},"order":{"field":"v","type":"quantitative"}}},
    {"data":{"name":"ins"},"transform":[{"filter":"datum.p=='c' && datum.i==2"}],"mark":{"type":"point","opacity":1,"strokeWidth":1,"size":26},"encoding":{"x":{"field":"u","type":"quantitative","axis":null},"y":{"field":"v","type":"quantitative","axis":null},"shape":{"field":"s","type":"nominal","scale":{"domain":["PEER8","EQ"],"range":["square","triangle-up"]},"legend":null},"fill":{"field":"s","type":"nominal","scale":{"domain":["PEER8","EQ"],"range":["#ffffff","#008000"]},"legend":null},"stroke":{"field":"s","type":"nominal","scale":{"domain":["PEER8","EQ"],"range":["#ff0000","#008000"]},"legend":null}}},
    {"data":{"values":[{}]},"mark":{"type":"text","text":"α","fontSize":16.5,"align":"left","baseline":"alphabetic"},"encoding":{"x":{"datum":0.145,"axis":null},"y":{"datum":-0.30,"axis":null}}},
    {"data":{"values":[{}]},"mark":{"type":"text","text":"sq","fontSize":10.5,"align":"left","baseline":"alphabetic"},"encoding":{"x":{"datum":0.313,"axis":null},"y":{"datum":-0.35,"axis":null}}},
    {"data":{"values":[{}]},"mark":{"type":"text","text":"/v","fontSize":16.5,"align":"left","baseline":"alphabetic"},"encoding":{"x":{"datum":0.467,"axis":null},"y":{"datum":-0.30,"axis":null}}},
    {"data":{"values":[{}]},"mark":{"type":"text","text":"sq","fontSize":10.5,"align":"left","baseline":"alphabetic"},"encoding":{"x":{"datum":0.64,"axis":null},"y":{"datum":-0.35,"axis":null}}}
  ]},
  {"layer":[
    {"data":{"values":[{}]},"mark":{"type":"rect","fill":"transparent","stroke":"black","strokeWidth":1.8},"encoding":{"x":{"datum":0,"axis":null},"x2":{"datum":1},"y":{"datum":0,"axis":null},"y2":{"datum":1}}},
    {"data":{"name":"ins"},"transform":[{"filter":"datum.p=='c' && datum.i==3"}],"mark":{"type":"line","strokeWidth":1.5},"encoding":{"x":{"field":"u","type":"quantitative","scale":{"domain":[0,1],"range":[189,260]},"axis":null},"y":{"field":"v","type":"quantitative","scale":{"domain":[0,1],"range":[81,10]},"axis":null},"color":{"field":"s","type":"nominal","scale":{"domain":["PEER8","EQ"],"range":["#ff0000","#008000"]},"legend":null},"order":{"field":"v","type":"quantitative"}}},
    {"data":{"name":"ins"},"transform":[{"filter":"datum.p=='c' && datum.i==3"}],"mark":{"type":"point","opacity":1,"strokeWidth":1,"size":26},"encoding":{"x":{"field":"u","type":"quantitative","axis":null},"y":{"field":"v","type":"quantitative","axis":null},"shape":{"field":"s","type":"nominal","scale":{"domain":["PEER8","EQ"],"range":["square","triangle-up"]},"legend":null},"fill":{"field":"s","type":"nominal","scale":{"domain":["PEER8","EQ"],"range":["#ffffff","#008000"]},"legend":null},"stroke":{"field":"s","type":"nominal","scale":{"domain":["PEER8","EQ"],"range":["#ff0000","#008000"]},"legend":null}}},
    {"data":{"values":[{}]},"mark":{"type":"text","text":"PGA/PGV","fontSize":16.5,"align":"center","baseline":"alphabetic"},"encoding":{"x":{"datum":0.53,"axis":null},"y":{"datum":-0.33,"axis":null}}}
  ]}
 ]}
]
}
